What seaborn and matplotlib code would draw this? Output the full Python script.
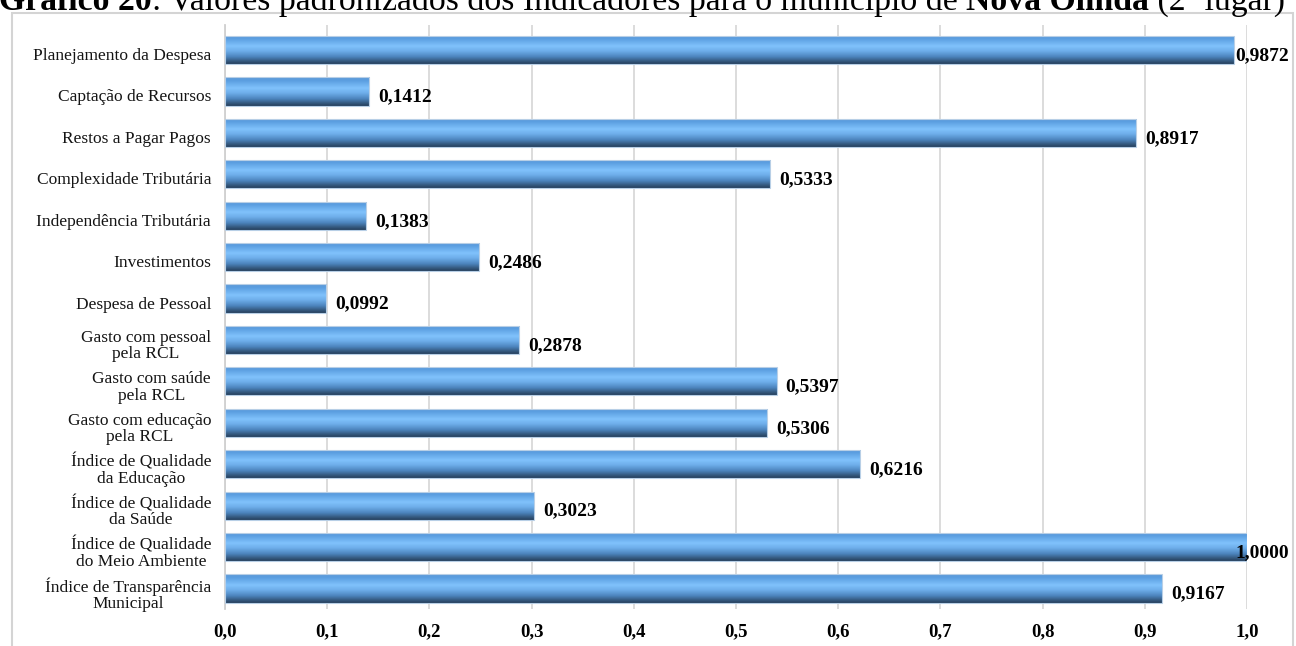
import matplotlib
matplotlib.use("Agg")
import matplotlib.pyplot as plt
import matplotlib.colors as mcolors
import matplotlib.transforms as mtransforms
from matplotlib.patches import Rectangle
import numpy as np
import pandas as pd
import seaborn as sns

# Indicators (top to bottom) and their standardized values
indicadores = [
    "Planejamento da Despesa",
    "Captação de Recursos",
    "Restos a Pagar Pagos",
    "Complexidade Tributária",
    "Independência Tributária",
    "Investimentos",
    "Despesa de Pessoal",
    "Gasto com pessoal\npela RCL",
    "Gasto com saúde\npela RCL",
    "Gasto com educação\npela RCL",
    "Índice de Qualidade\nda Educação",
    "Índice de Qualidade\nda Saúde",
    "Índice de Qualidade\ndo Meio Ambiente",
    "Índice de Transparência\nMunicipal",
]
valores = [0.9872, 0.1412, 0.8917, 0.5333, 0.1383, 0.2486, 0.0992,
           0.2878, 0.5397, 0.5306, 0.6216, 0.3023, 1.0000, 0.9167]
x_ticks = [0.0, 0.1, 0.2, 0.3, 0.4, 0.5, 0.6, 0.7, 0.8, 0.9, 1.0]

titulo_partes = [
    ("Gráfico 20", "bold"),
    (": Valores padronizados dos Indicadores para o município de ", "normal"),
    ("Nova Olinda", "bold"),
    (" (2º lugar)", "normal"),
]

df = pd.DataFrame({"indicador": indicadores, "valor": valores})

sns.set_theme(style="white")
plt.rcParams["font.family"] = ["Liberation Serif", "DejaVu Serif"]

W, H = 1296, 646
fig = plt.figure(figsize=(W / 100, H / 100), dpi=100)
fig.patch.set_facecolor("white")

left, right, top, bottom = 225, 1247, 25, 609
ax = fig.add_axes([left / W, 1 - bottom / H, (right - left) / W, (bottom - top) / H])

sns.barplot(data=df, x="valor", y="indicador", orient="h", ax=ax,
            color="#5b9bd5", width=0.68, saturation=1)

# Vertical gradient for the bars: mid blue on top, light band, dark base
grad_cmap = mcolors.LinearSegmentedColormap.from_list("barra", [
    (0.00, "#5d9ad6"),
    (0.12, "#5b9ee0"),
    (0.38, "#80c2fc"),
    (0.55, "#6eaeea"),
    (0.75, "#4c84bd"),
    (0.90, "#35597f"),
    (1.00, "#243f5c"),
])
grad = np.linspace(0, 1, 256).reshape(-1, 1)
for patch in ax.patches:
    x0, y0 = patch.get_x(), patch.get_y()
    w, h = patch.get_width(), patch.get_height()
    im = ax.imshow(grad, cmap=grad_cmap, aspect="auto",
                   extent=[x0, x0 + w, y0 + h, y0], origin="upper",
                   interpolation="bilinear", zorder=2)
    im.set_clip_path(patch)
    patch.set_facecolor("none")
    patch.set_edgecolor("#b8cfe6")
    patch.set_linewidth(0.8)
    patch.set_zorder(3)

ax.set_xlim(0, 1.0)
ax.set_ylim(13.495, -0.604)

ax.set_xticks(x_ticks)
ax.set_xticklabels([f"{t:.1f}".replace(".", ",") for t in x_ticks],
                   fontsize=13.5, fontweight="bold", color="black")
ax.tick_params(axis="x", length=0, pad=10)
ax.tick_params(axis="y", length=0, pad=10)
shift_down = mtransforms.ScaledTranslation(0, -4 / 100, fig.dpi_scale_trans)
for lbl in ax.get_yticklabels():
    lbl.set_fontsize(12.5)
    lbl.set_multialignment("center")
    lbl.set_linespacing(1.02)
    lbl.set_color("#141414")
    lbl.set_transform(lbl.get_transform() + shift_down)
ax.set_xlabel("")
ax.set_ylabel("")

ax.grid(axis="x", color="#d9d9d9", linewidth=1.3)
ax.grid(axis="y", visible=False)
ax.set_axisbelow(True)
for side in ["top", "right", "bottom"]:
    ax.spines[side].set_visible(False)
ax.spines["left"].set_color("#d0d0d0")
ax.spines["left"].set_linewidth(1.3)

# Value labels beside each bar; labels that would run past the frame
# are pulled back to end at its right side
renderer = fig.canvas.get_renderer()
frame_right = 1289
for i, v in enumerate(valores):
    txt = f"{v:.4f}".replace(".", ",")
    t = ax.annotate(txt, xy=(v, i), xytext=(6.5, -4), textcoords="offset points",
                    ha="left", va="center", fontsize=14, fontweight="bold",
                    color="black", zorder=5, annotation_clip=False)
    bb = t.get_window_extent(renderer=renderer)
    if bb.x1 > frame_right:
        t.remove()
        ax.annotate(txt, xy=(frame_right, i), xycoords=("figure pixels", "data"),
                    xytext=(0, -4), textcoords="offset points",
                    ha="right", va="center", fontsize=14, fontweight="bold",
                    color="black", zorder=5, annotation_clip=False)

# Outer frame around the chart area
fig.patches.append(Rectangle((12 / W, -0.05), (1293 - 12) / W, 1 - 13 / H + 0.05,
                             transform=fig.transFigure, fill=False,
                             edgecolor="#d4d4d4", linewidth=1.5, zorder=0))

# Title assembled from regular and bold pieces
x_px = -1
y_base = 1 - 10 / H
for txt, wgt in titulo_partes:
    t = fig.text(x_px / W, y_base, txt, fontsize=24.3, fontweight=wgt,
                 va="baseline", ha="left", color="black")
    bb = t.get_window_extent(renderer=renderer)
    x_px += bb.width

fig.savefig("out.png", dpi=100, facecolor="white")
